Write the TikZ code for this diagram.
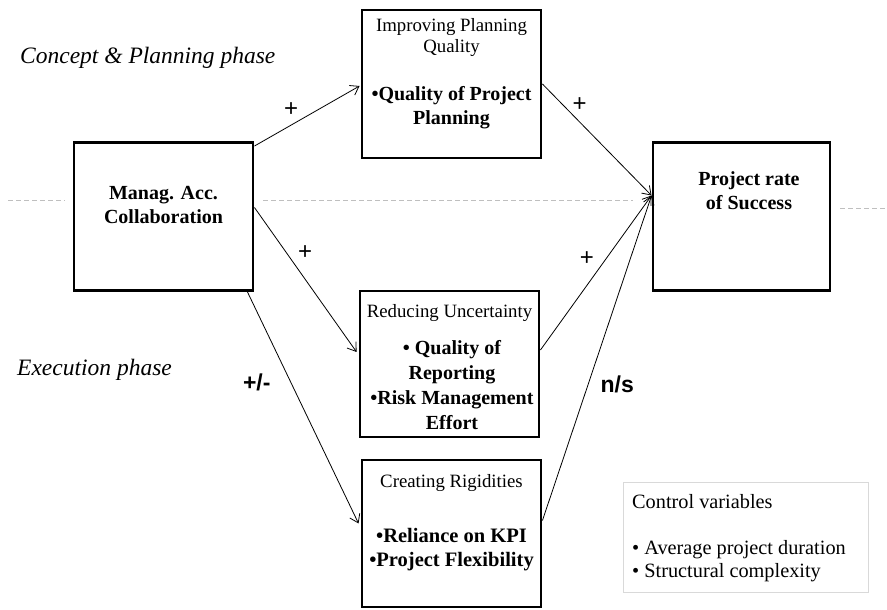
\documentclass[tikz,border=0pt]{standalone}
\usepackage{fontspec}
\setmainfont{Liberation Serif}
\setsansfont{Liberation Sans}
\usepackage{tikz}
\usetikzlibrary{arrows.meta,positioning,calc}
\tikzset{
  constbox/.style={draw=black, line width=2.9pt, minimum width=179pt, minimum height=148pt,
                   inner sep=0pt},
  boxhead/.style={font=\fontsize{18.8}{21}\selectfont, align=center, inner sep=0pt},
  boxitem/.style={font=\fontsize{20}{24}\selectfont\bfseries, align=center, inner sep=0pt},
  linkarr/.style={-{Straight Barb[length=8pt,width=11pt]}, line width=0.8pt},
  signlab/.style={font=\sffamily\fontsize{24}{26}\selectfont, inner sep=0pt},
  boldlab/.style={font=\sffamily\bfseries\fontsize{23}{26}\selectfont, inner sep=0pt},
  phaselab/.style={font=\itshape\fontsize{23.5}{26}\selectfont, anchor=west, inner sep=0pt},
  phaseline/.style={draw=gray!50, line width=1pt, dash pattern=on 5pt off 3pt},
  ctrlbox/.style={draw=gray!30, line width=1pt, minimum width=245pt, minimum height=110pt},
  ctrltext/.style={font=\fontsize{20.3}{23}\selectfont, align=left, anchor=west, inner sep=0pt},
}

\begin{document}
\begin{tikzpicture}[x=1pt,y=1pt]
\useasboundingbox (0,0) rectangle (887,610);

% phase split
\draw[phaseline] (8,409) -- (65,409);
\draw[phaseline] (263,409) -- (633,409);
\draw[phaseline] (840,401) -- (887,401);
\node[phaselab] (concept) at (20,552) {Concept \& Planning phase};
\node[phaselab] (exec) at (17,240) {Execution phase};

% constructs
\node[constbox] (mac) at (163.5,393.5) {};
\node[boxitem] (mact) at (163.5,405) {Manag. Acc.\\Collaboration};

\node[constbox] (plan) at (451.5,526) {};
\node[boxhead] (plant) at (451.5,572.5) {Improving Planning\\Quality};
\node[boxitem] (plani) at (451.5,502.5) {•Quality of Project\\Planning};

\node[constbox, minimum height=146pt] (reduce) at (449.5,246) {};
\node[boxhead] (reducet) at (449.5,297) {Reducing Uncertainty};
\node[boxitem, font=\fontsize{20}{25}\selectfont\bfseries] (reducei) at (452,224.5)
  {• Quality of\\Reporting\\•Risk Management\\Effort};

\node[constbox, minimum height=147pt] (rigid) at (451.5,76.5) {};
\node[boxhead] (rigidt) at (451.5,127) {Creating Rigidities};
\node[boxitem, font=\fontsize{20.5}{24}\selectfont\bfseries] (rigidi) at (451.5,60)
  {•Reliance on KPI\\•Project Flexibility};

\node[constbox, minimum width=177pt] (succ) at (741.5,393.5) {};
\node[boxitem] (succt) at (749,419) {Project rate\\of Success};

% controls
\node[ctrlbox] (ctrl) at (745.5,72) {};
\node[ctrltext] (ctrlt) at (632,108) {Control variables};
\node[ctrltext] (ctrli) at (632,48.5) {• Average project duration\\• Structural complexity};

% paths
\draw[linkarr] ([yshift=-5pt]mac.north east) -- node[signlab, pos=0.35, yshift=15pt] {+}
  ([yshift=-2pt,xshift=-1pt]plan.west);
\draw[linkarr] (plan.east) -- node[signlab, pos=0.34, yshift=17pt] {+}
  ([yshift=21pt]succ.west);
\draw[linkarr] ([yshift=9pt]mac.east) -- node[signlab, pos=0.31, xshift=19pt] {+}
  ([yshift=12pt,xshift=-2pt]reduce.west);
\draw[linkarr] ([yshift=14pt]reduce.east) -- node[signlab, pos=0.59, xshift=-19pt] {+}
  ([yshift=21pt]succ.west);
\draw[linkarr] ([xshift=-7pt]mac.south east) -- node[boldlab, pos=0.39, xshift=-34pt] {+/-}
  ([yshift=10pt,xshift=-2pt]rigid.west);
\draw[linkarr] ([yshift=13pt]rigid.east) -- node[boldlab, pos=0.42, xshift=29pt] {n/s}
  ([yshift=21pt]succ.west);
\end{tikzpicture}
\end{document}
